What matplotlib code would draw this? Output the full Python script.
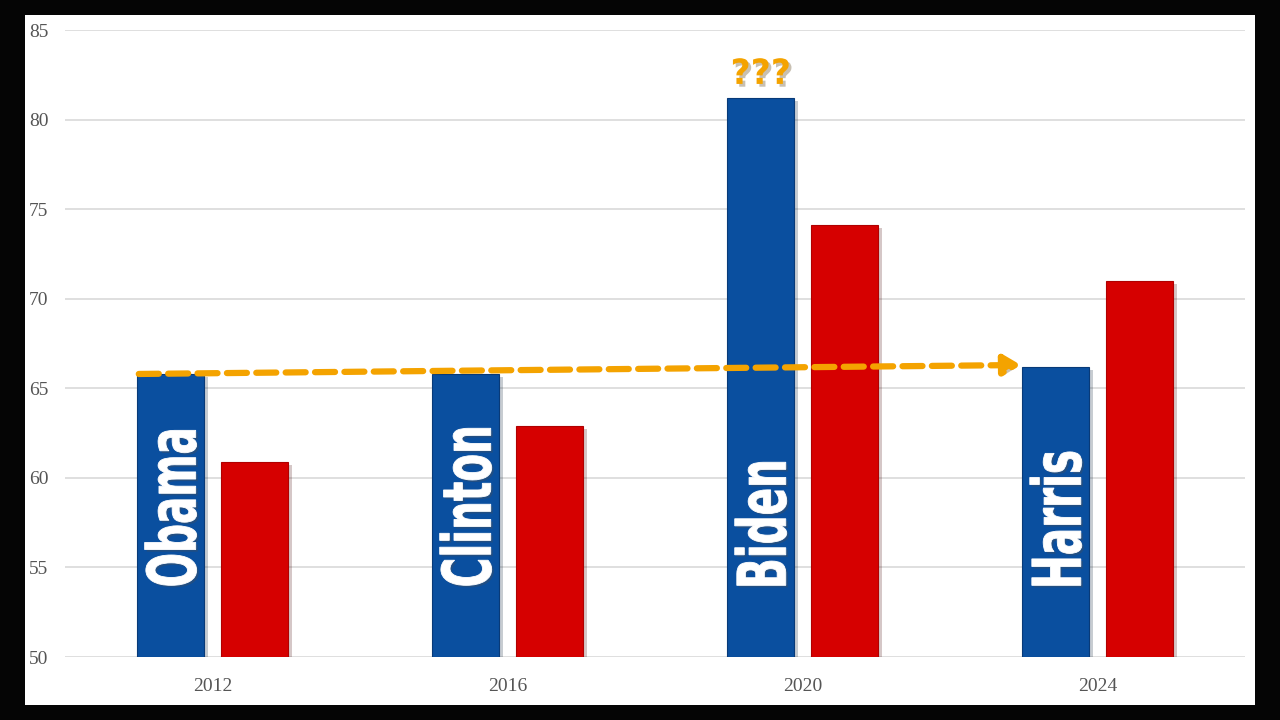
import matplotlib
matplotlib.use('Agg')
import matplotlib.pyplot as plt
import matplotlib.patheffects as pe
from matplotlib.patches import Rectangle, PathPatch
from matplotlib.textpath import TextPath
from matplotlib.font_manager import FontProperties
from matplotlib.transforms import Affine2D, ScaledTranslation
import numpy as np

years = ['2012', '2016', '2020', '2024']
candidates = ['Obama', 'Clinton', 'Biden', 'Harris']
blue_vals = [65.8, 65.8, 81.2, 66.2]
red_vals = [60.9, 62.9, 74.1, 71.0]
yticks = [50, 55, 60, 65, 70, 75, 80, 85]

# dashed arrow (Obama level -> Harris level)
arrow_start = (-0.25, 65.8)
arrow_end = (2.74, 66.3)

fig = plt.figure(figsize=(12.8, 7.2), dpi=100)
fig.patch.set_facecolor('#050505')
fig.patches.append(Rectangle((0.0195, 0.0208), 0.961, 0.958, transform=fig.transFigure,
                             facecolor='white', edgecolor='none', zorder=-10))

ax = fig.add_axes([0.0508, 0.0875, 0.922, 0.8708])
ax.set_facecolor('none')
ax.set_xlim(-0.5, 3.5)
ax.set_ylim(50, 85)

x = np.arange(len(years))
w = 0.227
off = 0.142
shadow = [pe.SimplePatchShadow(offset=(3, -2), alpha=0.22), pe.Normal()]
ax.bar(x - off, np.array(blue_vals) - 50, w, bottom=50, color='#0a4f9f',
       edgecolor='#083a78', linewidth=0.8, zorder=3, path_effects=shadow)
ax.bar(x + off, np.array(red_vals) - 50, w, bottom=50, color='#d60000',
       edgecolor='#b00000', linewidth=0.8, zorder=3, path_effects=shadow)

# condensed vertical names: squeeze a bold text path
fp = FontProperties(family='DejaVu Sans', weight='bold')
paths = [TextPath((0, 0), n, size=1, prop=fp) for n in candidates]
ref_bb = paths[0].get_extents()
px_h = 52.0 / ref_bb.height          # glyph height across the bar, px
squeeze = 155.0 / (ref_bb.width * px_h)  # length of "Obama" along the bar, px
for i, tp in enumerate(paths):
    bb = tp.get_extents()
    tr = (Affine2D().translate(-bb.x0, -(bb.y0 + bb.y1) / 2)
          .scale(px_h * squeeze, px_h).rotate_deg(90)
          + ScaledTranslation(x[i] - off, 54.0, ax.transData))
    ax.add_patch(PathPatch(tp, transform=tr, facecolor='white', edgecolor='white',
                           linewidth=0.6, zorder=5,
                           path_effects=[pe.SimplePatchShadow(offset=(1.5, -1.5), alpha=0.35),
                                         pe.Normal()]))

ax.annotate('', xy=arrow_end, xytext=arrow_start,
            arrowprops=dict(arrowstyle='-|>,head_length=1.0,head_width=0.6',
                            color='#f4a300', lw=4.5, linestyle=(0, (3.2, 1.5)),
                            shrinkA=0, shrinkB=0,
                            path_effects=[pe.SimplePatchShadow(offset=(1.5, -1.5), alpha=0.3), pe.Normal()]),
            zorder=6)

ax.text(x[2] - off, 81.6, '???', ha='center', va='bottom', color='#f4a300',
        fontsize=25, fontweight='bold', family='DejaVu Sans', zorder=6,
        path_effects=[pe.withSimplePatchShadow(offset=(2, -2), alpha=0.3)])

ax.set_yticks(yticks)
ax.set_xticks(x)
ax.set_xticklabels(years)
ax.grid(axis='y', color='#dcdcdc', linewidth=1.3, zorder=0)
ax.set_axisbelow(True)
for s in ax.spines.values():
    s.set_visible(False)
ax.tick_params(length=0, labelcolor='#555555', labelsize=14)
ax.tick_params(axis='y', pad=12)
ax.tick_params(axis='x', pad=15)
for lab in ax.get_xticklabels() + ax.get_yticklabels():
    lab.set_family('Liberation Serif')

fig.savefig('out.png', dpi=100, facecolor=fig.get_facecolor())
